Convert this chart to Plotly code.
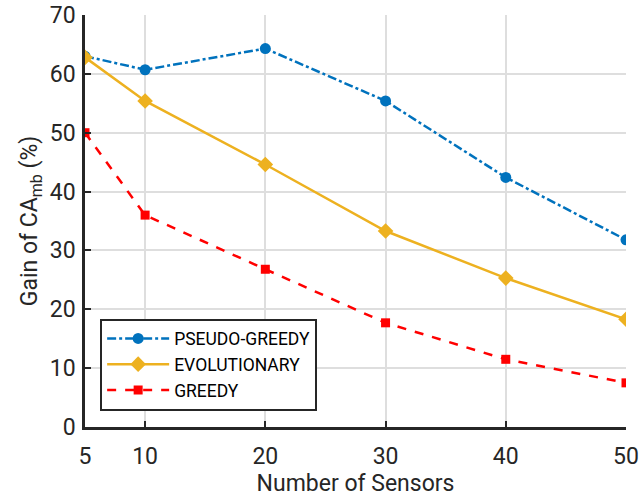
import plotly.graph_objects as go

sensors = [5, 10, 20, 30, 40, 50]
pseudo_greedy = [63.0, 60.7, 64.3, 55.4, 42.4, 31.8]
evolutionary = [62.8, 55.4, 44.6, 33.3, 25.3, 18.3]
greedy = [50.0, 36.0, 26.8, 17.7, 11.5, 7.5]

x_ticks = [5, 10, 20, 30, 40, 50]
y_ticks = [0, 10, 20, 30, 40, 50, 60, 70]

fig = go.Figure()
fig.add_trace(go.Scatter(
    x=sensors, y=pseudo_greedy, name="PSEUDO-GREEDY", mode="lines+markers",
    line=dict(color="#0072BD", width=2.5, dash="dashdot"),
    marker=dict(symbol="circle", size=11, color="#0072BD"),
))
fig.add_trace(go.Scatter(
    x=sensors, y=evolutionary, name="EVOLUTIONARY", mode="lines+markers",
    line=dict(color="#EDB120", width=2.5),
    marker=dict(symbol="diamond", size=12, color="#EDB120"),
))
fig.add_trace(go.Scatter(
    x=sensors, y=greedy, name="GREEDY", mode="lines+markers",
    line=dict(color="#FF0000", width=2.5, dash="dash"),
    marker=dict(symbol="square", size=9, color="#FF0000"),
))

fig.update_layout(
    width=641, height=500,
    margin=dict(l=85, r=15, t=15, b=73, autoexpand=False),
    plot_bgcolor="white", paper_bgcolor="white",
    font=dict(family="Roboto", color="#262626"),
    xaxis=dict(
        range=[5, 50], tickvals=x_ticks, ticktext=[str(v) for v in x_ticks],
        showgrid=True, gridcolor="#DEDEDE", gridwidth=2,
        showline=True, linecolor="#262626", linewidth=2.5,
        ticks="inside", ticklen=6, tickwidth=2, tickcolor="#262626",
        tickfont=dict(size=23), zeroline=False, ticklabelstandoff=7,
        automargin=False,
        title=dict(text="Number of Sensors", font=dict(size=23), standoff=6),
    ),
    yaxis=dict(
        range=[0, 70], tickvals=y_ticks,
        showgrid=True, gridcolor="#DEDEDE", gridwidth=2,
        showline=True, linecolor="#262626", linewidth=2.5,
        ticks="inside", ticklen=6, tickwidth=2, tickcolor="#262626",
        tickfont=dict(size=23), zeroline=False, ticklabelstandoff=2,
        automargin=False,
        title=dict(text="Gain of CA<sub>mb</sub> (%)", font=dict(size=23), standoff=6),
    ),
    legend=dict(
        x=0.028, y=0.04, xanchor="left", yanchor="bottom",
        bgcolor="white", bordercolor="#262626", borderwidth=2,
        font=dict(size=17.5, color="#000000"),
        itemwidth=62, tracegroupgap=0,
    ),
)

fig.write_html("out.html")
